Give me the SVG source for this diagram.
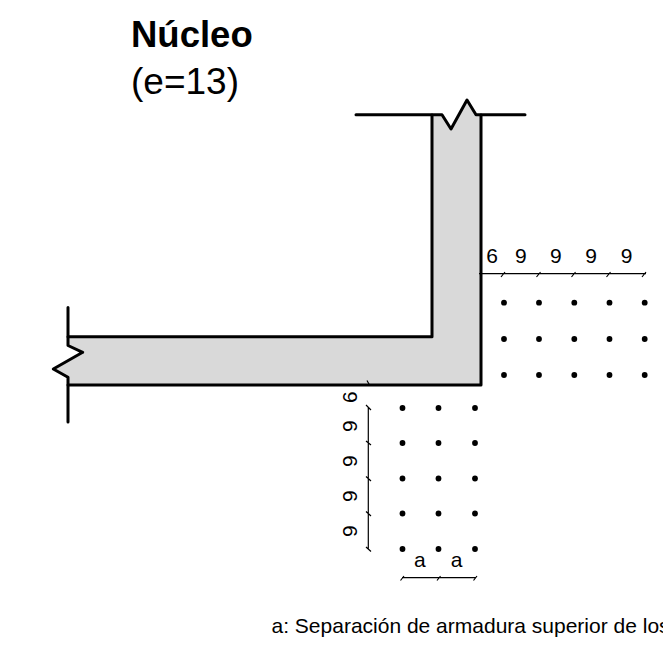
<svg xmlns="http://www.w3.org/2000/svg" width="663" height="647" viewBox="0 0 663 647">
<style>
text{font-family:"Liberation Sans",Arial,sans-serif;fill:#000}
.w{fill:none;stroke:#000;stroke-width:3;stroke-linejoin:round;stroke-linecap:round}
.d{fill:none;stroke:#000;stroke-width:1.2}
.l{font-size:21px}
.r{fill:#000}
</style>
<defs><circle id="b" r="2.900" class="r"/></defs>
<rect width="663" height="647" fill="#fff"/>
<path d="M432 115H442L451 129L467 100L476 115H481V385H68V377L53 369L83 352L68 345V337H432Z" fill="#d9d9d9"/>
<path class="w" d="M356 114.700H442L451 129L467 100L476 114.700H525"/>
<path class="w" d="M432 115V336.700H68M481 115V385H68"/>
<path class="w" d="M68 307.500V345.500L82.700 352.300L53.300 369L68 377.300V422"/>
<path class="d" d="M479 273.700H646M501 277L505 272M536.500 277L540.500 272M571.500 277L575.500 272M606.500 277L610.500 272M642 277L646 272"/>
<path class="d" d="M368.300 407V549M367 380.500L369.500 385M366 405L371 410M366 441L371 445M366 476.500L371 481M366 511.500L371 516M366 547L371 551.500"/>
<path class="d" d="M402 577.700H476M400.500 580.500L404 576M437 580.500L440.500 576M473.500 580.500L477 576"/>
<g id="dots">
<use href="#b" x="504" y="302.700"/><use href="#b" x="539" y="302.700"/><use href="#b" x="574.300" y="302.700"/><use href="#b" x="609.500" y="302.700"/><use href="#b" x="644.700" y="302.700"/>
<use href="#b" x="504" y="339"/><use href="#b" x="539" y="339"/><use href="#b" x="574.300" y="339"/><use href="#b" x="609.500" y="339"/><use href="#b" x="644.700" y="339"/>
<use href="#b" x="504" y="375"/><use href="#b" x="539" y="375"/><use href="#b" x="574.300" y="375"/><use href="#b" x="609.500" y="375"/><use href="#b" x="644.700" y="375"/>
<use href="#b" x="402.500" y="408"/><use href="#b" x="438.500" y="408"/><use href="#b" x="475" y="408"/>
<use href="#b" x="402.500" y="443"/><use href="#b" x="438.500" y="443"/><use href="#b" x="475" y="443"/>
<use href="#b" x="402.500" y="478.500"/><use href="#b" x="438.500" y="478.500"/><use href="#b" x="475" y="478.500"/>
<use href="#b" x="402.500" y="513.500"/><use href="#b" x="438.500" y="513.500"/><use href="#b" x="475" y="513.500"/>
<use href="#b" x="402.500" y="549"/><use href="#b" x="438.500" y="549"/><use href="#b" x="475" y="549"/>
</g>
<text x="131" y="47" font-size="36.500" font-weight="700">Núcleo</text>
<text x="131" y="93.500" font-size="37">(e=13)</text>
<text class="l" x="486.300" y="263.300">6</text><text class="l" x="515" y="263.300">9</text><text class="l" x="550" y="263.300">9</text><text class="l" x="585.300" y="263.300">9</text><text class="l" x="620.700" y="263.300">9</text>
<text class="l" transform="translate(356.700 403) rotate(-90)">6</text>
<text class="l" transform="translate(356.700 432) rotate(-90)">9</text>
<text class="l" transform="translate(356.700 467) rotate(-90)">9</text>
<text class="l" transform="translate(356.700 502) rotate(-90)">9</text>
<text class="l" transform="translate(356.700 537) rotate(-90)">9</text>
<text class="l" x="414" y="566.700">a</text><text class="l" x="450.700" y="566.700">a</text>
<text x="271.500" y="632.500" font-size="21">a: Separación de armadura superior de los</text>
</svg>
